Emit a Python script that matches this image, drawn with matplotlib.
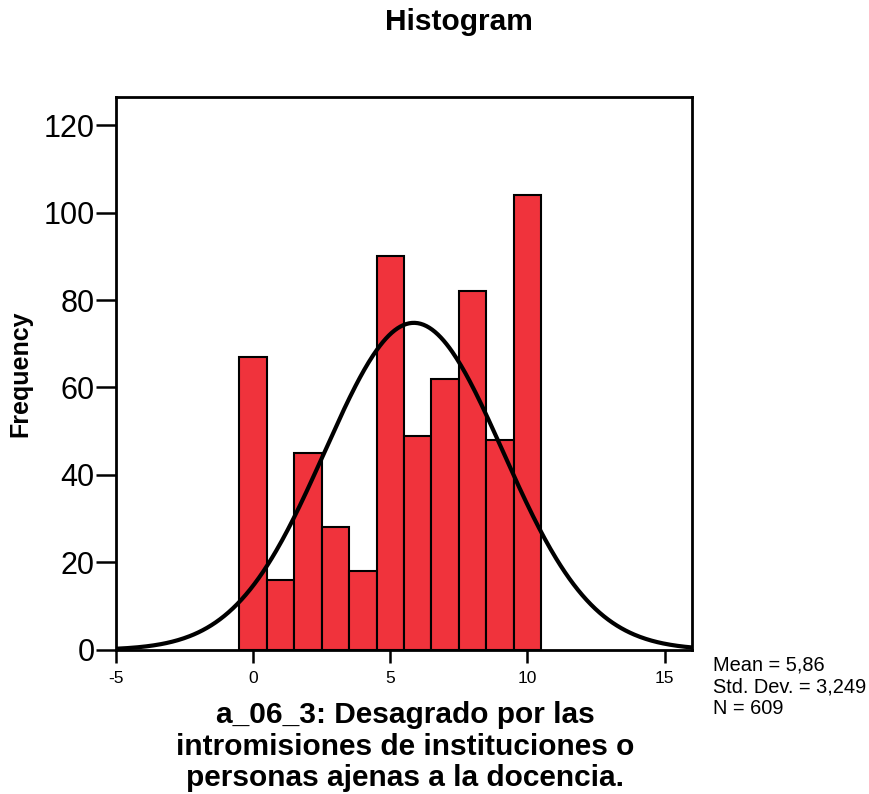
import numpy as np
import matplotlib
matplotlib.use("Agg")
import matplotlib.pyplot as plt

plt.rcParams['font.family'] = ['Liberation Sans', 'DejaVu Sans']
plt.rcParams['axes.unicode_minus'] = False

bin_centers = [0, 1, 2, 3, 4, 5, 6, 7, 8, 9, 10]
frequencies = [67, 16, 45, 28, 18, 90, 49, 62, 82, 48, 104]
mean = 5.86
std = 3.249
n = 609
xticks = [-5, 0, 5, 10, 15]
yticks = [0, 20, 40, 60, 80, 100, 120]

fig = plt.figure(figsize=(8.7, 7.94), dpi=100)
ax = fig.add_axes([0.1333, 0.1814, 0.6621, 0.6964])

ax.bar(bin_centers, frequencies, width=1.0, color='#F0333C', edgecolor='black', linewidth=1.5, zorder=2)

xs = np.linspace(-5, 16, 400)
ys = n * 1.0 / (std * np.sqrt(2 * np.pi)) * np.exp(-0.5 * ((xs - mean) / std) ** 2)
ax.plot(xs, ys, color='black', linewidth=3, zorder=3)

ax.set_xlim(-5, 16)
ax.set_ylim(0, 126.4)
ax.set_xticks(xticks)
ax.set_yticks(yticks)
ax.tick_params(axis='x', length=9, width=1.8, labelsize=12.5, pad=6)
ax.tick_params(axis='y', length=14.5, width=1.8, labelsize=22, pad=1)
for s in ax.spines.values():
    s.set_linewidth(2)
    s.set_color('black')

ax.set_ylabel('Frequency', fontsize=18, fontweight='bold')
ax.yaxis.set_label_coords(-0.145, 0.5)
fig.text(0.5276, 0.972, 'Histogram', ha='center', va='center', fontsize=21.5, fontweight='bold')
fig.text(0.4655, 0.0595, 'a_06_3: Desagrado por las\nintromisiones de instituciones o\npersonas ajenas a la docencia.',
         ha='center', va='center', fontsize=21.5, fontweight='bold', linespacing=1.17)
fig.text(0.819, 0.1745, 'Mean = 5,86\nStd. Dev. = 3,249\nN = 609', ha='left', va='top',
         fontsize=14.4, linespacing=1.2)

fig.savefig('out.png', dpi=100)
